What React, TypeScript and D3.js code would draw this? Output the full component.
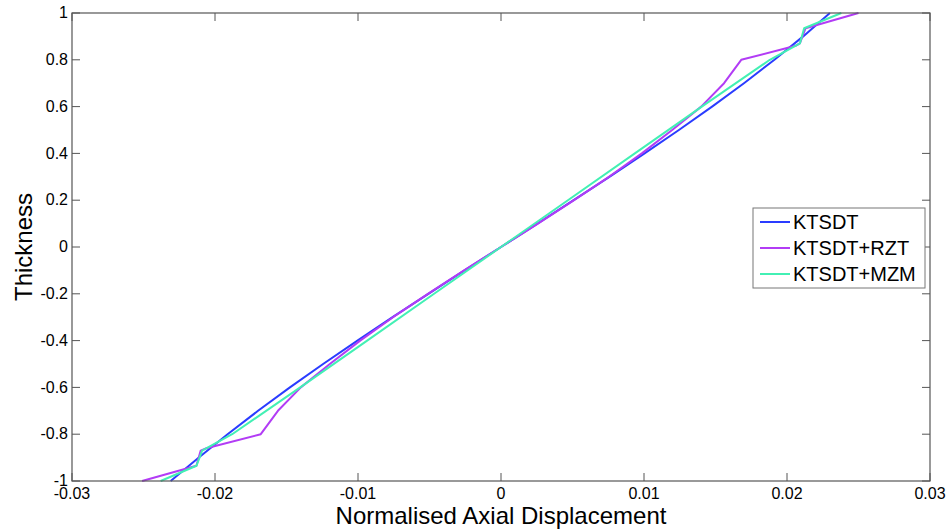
import React from 'react';
import * as d3 from 'd3';

// Thickness coordinate (z) sampled for each series, with the read-off axial displacement
const zKtsdt = [-1, -0.9, -0.8, -0.7, -0.6, -0.5, -0.4, -0.3, -0.2, -0.1, 0, 0.1, 0.2, 0.3, 0.4, 0.5, 0.6, 0.7, 0.8, 0.9, 1];
const wKtsdt = [-0.0231, -0.02113, -0.01912, -0.01699, -0.01476, -0.01244, -0.01004, -0.00758, -0.00508, -0.00255, 0,
  0.00255, 0.00508, 0.00758, 0.01004, 0.01244, 0.01476, 0.01699, 0.01912, 0.02113, 0.0230];

const zRzt = [-1, -0.935, -0.87, -0.86, -0.8, -0.7, -0.6, -0.5, -0.4, -0.3, -0.2, -0.1, 0, 0.1, 0.2, 0.3, 0.4, 0.5, 0.6, 0.7, 0.8, 0.86, 0.87, 0.935, 1];
const wRzt = [-0.0251, -0.0213, -0.0210, -0.0206, -0.0168, -0.0156, -0.0140, -0.01197, -0.00985, -0.00755, -0.00511, -0.00258, 0,
  0.00258, 0.00511, 0.00755, 0.00985, 0.01197, 0.0140, 0.0156, 0.0168, 0.0206, 0.0209, 0.0213, 0.0250];

const zMzm = [-1, -0.935, -0.87, -0.8, -0.6, -0.4, -0.2, 0, 0.2, 0.4, 0.6, 0.8, 0.87, 0.935, 1];
const wMzm = [-0.0238, -0.0213, -0.0209, -0.0188, -0.01404, -0.00936, -0.00468, 0, 0.00468, 0.00936, 0.01404, 0.0188, 0.0209, 0.0212, 0.0238];

const xTicks = [-0.03, -0.02, -0.01, 0, 0.01, 0.02, 0.03];
const yTicks = [-1, -0.8, -0.6, -0.4, -0.2, 0, 0.2, 0.4, 0.6, 0.8, 1];

const seriesNames = ['KTSDT', 'KTSDT+RZT', 'KTSDT+MZM'];
const seriesColors = ['#2a3cff', '#b23cf5', '#42f0b4'];

const W = 949;
const H = 532;
const margin = { left: 72, right: 19, top: 13, bottom: 51 };

const App: React.FC = () => {
  const x = d3.scaleLinear().domain([-0.03, 0.03]).range([margin.left, W - margin.right]);
  const y = d3.scaleLinear().domain([-1, 1]).range([H - margin.bottom, margin.top]);

  const line = d3.line<[number, number]>()
    .x((d) => x(d[0]))
    .y((d) => y(d[1]));

  const series: Array<[number, number][]> = [
    wKtsdt.map((w, i) => [w, zKtsdt[i]]),
    wRzt.map((w, i) => [w, zRzt[i]]),
    wMzm.map((w, i) => [w, zMzm[i]]),
  ];

  const x0 = margin.left;
  const x1 = W - margin.right;
  const y0 = margin.top;
  const y1 = H - margin.bottom;
  const tick = 8;
  const frame = '#555';
  const font = 'Arial, "Liberation Sans", sans-serif';

  const fmt = (v: number) => (v === 0 ? '0' : String(+v.toFixed(2)));

  const legX = 753;
  const legY = 208;

  return (
    <svg width={W} height={H} style={{ position: 'absolute', left: 0, top: 0, background: '#fff' }} fontFamily={font}>
      <rect x={0} y={0} width={W} height={H} fill="#fff" />
      <g>
        {series.map((s, i) => (
          <path key={i} d={line(s) || ''} fill="none" stroke={seriesColors[i]} strokeWidth={2} strokeLinejoin="round" />
        ))}
      </g>

      {/* frame */}
      <rect x={x0} y={y0} width={x1 - x0} height={y1 - y0} fill="none" stroke={frame} strokeWidth={1.2} />

      {/* x ticks */}
      {xTicks.map((t) => (
        <g key={`x${t}`}>
          <line x1={x(t)} x2={x(t)} y1={y1} y2={y1 - tick} stroke={frame} />
          <line x1={x(t)} x2={x(t)} y1={y0} y2={y0 + tick} stroke={frame} />
          <text x={x(t)} y={y1 + 18} fontSize={16} textAnchor="middle" fill="#000">{fmt(t)}</text>
        </g>
      ))}

      {/* y ticks */}
      {yTicks.map((t) => (
        <g key={`y${t}`}>
          <line x1={x0} x2={x0 + tick} y1={y(t)} y2={y(t)} stroke={frame} />
          <line x1={x1} x2={x1 - tick} y1={y(t)} y2={y(t)} stroke={frame} />
          <text x={x0 - 4} y={y(t)} dy="0.33em" fontSize={16} textAnchor="end" fill="#000">{fmt(t)}</text>
        </g>
      ))}

      {/* axis labels */}
      <text x={(x0 + x1) / 2} y={H - 8} fontSize={24} textAnchor="middle" fill="#000">Normalised Axial Displacement</text>
      <text transform={`translate(32,${(y0 + y1) / 2}) rotate(-90)`} fontSize={24} textAnchor="middle" fill="#000">Thickness</text>

      {/* legend */}
      <rect x={legX} y={legY} width={172} height={80} fill="#fff" stroke="#777" strokeWidth={1} />
      {seriesNames.map((name, i) => {
        const cy = legY + 14 + i * 26;
        return (
          <g key={name}>
            <line x1={legX + 7} x2={legX + 37} y1={cy} y2={cy} stroke={seriesColors[i]} strokeWidth={2} />
            <text x={legX + 40} y={cy} dy="0.36em" fontSize={20} fill="#000">{name}</text>
          </g>
        );
      })}
    </svg>
  );
};

export default App;
